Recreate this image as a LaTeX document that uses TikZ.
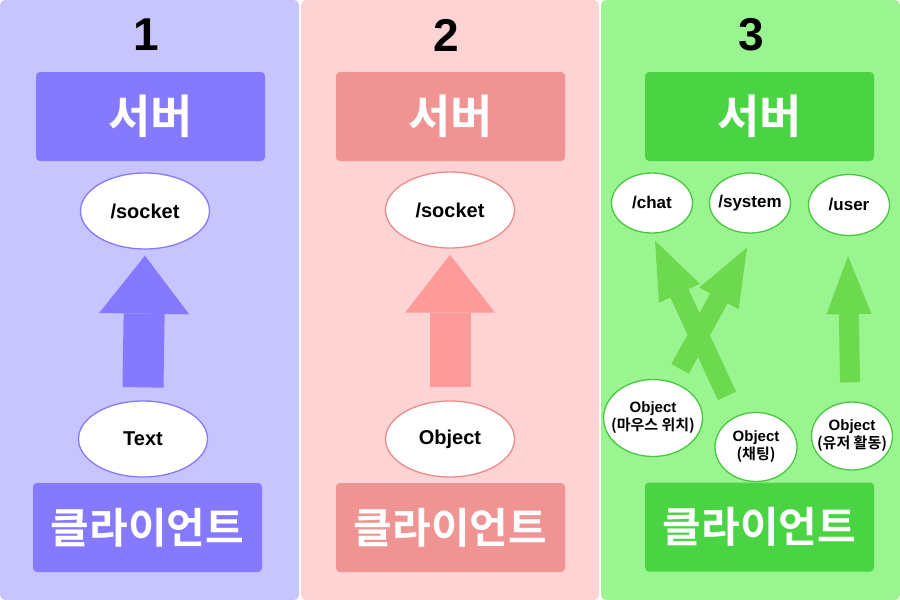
\documentclass[tikz,border=0pt]{standalone}
\usepackage{fontspec}
\setmainfont{Liberation Sans}
\newfontfamily\kr{Noto Sans CJK KR}[BoldFont={Noto Sans CJK KR Bold}]
\usetikzlibrary{arrows.meta}
\usetikzlibrary{positioning}
\usetikzlibrary{shapes.geometric}
\definecolor{bgA}{HTML}{C8C4FF}
\definecolor{bgB}{HTML}{FED3D3}
\definecolor{bgC}{HTML}{9AF590}
\definecolor{boxA}{HTML}{8479FF}
\definecolor{boxB}{HTML}{F09393}
\definecolor{boxC}{HTML}{4AD444}
\definecolor{arrB}{HTML}{FF9A9A}
\definecolor{arrC}{HTML}{6DD94F}
\definecolor{rimB}{HTML}{EE8A8A}
\definecolor{rimC}{HTML}{48C840}
\tikzstyle{every node}+=[inner sep=0pt]
\tikzstyle{panel} = [rounded corners=5pt]
\tikzstyle{num} = [font=\bfseries\fontsize{46}{50}\selectfont]
\tikzstyle{block} = [rectangle, rounded corners=4pt, minimum width=229pt, minimum height=89pt, text=white]
\tikzstyle{server} = [block, font=\kr\bfseries\fontsize{46}{50}\selectfont]
\tikzstyle{client} = [block, font=\kr\bfseries\fontsize{42}{46}\selectfont]
\tikzstyle{port} = [ellipse, draw, fill=white, line width=1.3pt, minimum width=129pt, minimum height=76pt, font=\bfseries\fontsize{20}{22}\selectfont]
\tikzstyle{small} = [ellipse, draw=rimC, fill=white, line width=1.3pt, inner xsep=-10pt, inner ysep=-4pt, align=center, font=\bfseries\fontsize{15}{18}\selectfont]
\tikzstyle{route} = [small, minimum width=81pt, minimum height=60pt, font=\bfseries\fontsize{17}{19}\selectfont]
\tikzstyle{fat} = [line width=41pt, -{Triangle[width=90pt, length=58pt, line width=0pt]}]
\tikzstyle{slim} = [line width=20pt, arrC, -{Triangle[width=45pt, length=58pt, line width=0pt]}]

\begin{document}
\begin{tikzpicture}[x=1pt, y=-1pt]
  \useasboundingbox (0,0) rectangle (900,600);
  % Panels
  \fill[white] (0,0) rectangle (900,600);
  \fill[bgA, panel] (0,0) rectangle (299,600);
  \fill[bgB, panel] (301,0) rectangle (599,600);
  \fill[bgC, panel] (601,0) rectangle (900,600);
  % Place nodes
  \node [num] (n1) at (146,35) {1};
  \node [server, fill=boxA] (srv1) at (150.5,116.5) {서버};
  \node [port, draw=boxA] (sock1) at (145,211) {/socket};
  \node [port, draw=boxA] (txt1) at (143,439) {Text};
  \node [client, fill=boxA] (cli1) at (147.5,527.5) {클라이언트};

  \node [num] (n2) at (446,35) {2};
  \node [server, fill=boxB] (srv2) at (450.5,116.5) {서버};
  \node [port, draw=rimB] (sock2) at (450,210) {/socket};
  \node [port, draw=rimB] (obj2) at (450,439) {Object};
  \node [client, fill=boxB] (cli2) at (450.5,527.5) {클라이언트};

  \node [num] (n3) at (751,35) {3};
  \node [server, fill=boxC] (srv3) at (759.5,116.5) {서버};
  \node [route] (chat) at (652,203) {/chat};
  \node [route] (sys) at (750,203) {/system};
  \node [route, minimum height=61pt] (user) at (849,205) {/user};
  \node [small, minimum width=99pt, minimum height=77pt] (mouse) at (653,418) {Object\\{\kr\bfseries(마우스 위치)}};
  \node [small, minimum width=82pt, minimum height=69pt] (talk) at (756,447) {Object\\{\kr\bfseries(채팅)}};
  \node [small, minimum width=81pt, minimum height=68pt] (act) at (852,436) {Object\\{\kr\bfseries(유저 활동)}};
  \node [client, fill=boxC] (cli3) at (759.5,527) {클라이언트};
  % Draw edges
  \draw [fat, boxA] ([yshift=13pt]txt1.north) -- ([yshift=-6pt]sock1.south);
  \draw [fat, arrB] ([yshift=13pt]obj2.north) -- ([yshift=-6pt]sock2.south);
  \draw [slim] ([xshift=-29pt, yshift=16pt]talk.north) -- ([xshift=3pt, yshift=-7pt]chat.south);
  \draw [slim] ([xshift=27pt, yshift=10pt]mouse.north) -- ([xshift=-3pt, yshift=-14pt]sys.south);
  \draw [slim] ([xshift=-2pt, yshift=19pt]act.north) -- ([xshift=-1pt, yshift=-20pt]user.south);
\end{tikzpicture}
\end{document}
